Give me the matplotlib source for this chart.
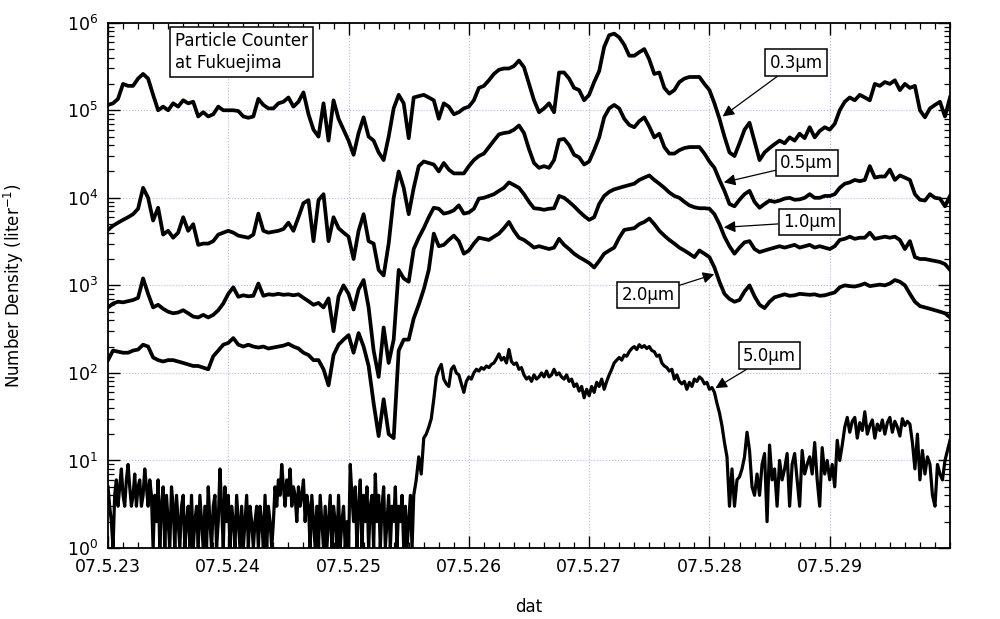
"""Particle number density at Fukuejima, 2007-05-23 .. 2007-05-30 (log scale)."""

import numpy as np
import matplotlib

matplotlib.use("Agg")
import matplotlib.pyplot as plt
from matplotlib.ticker import FixedLocator, MultipleLocator, NullFormatter

# x axis: days since 07.5.23 00:00
day_ticks = [0, 1, 2, 3, 4, 5, 6]
day_labels = ["07.5.23", "07.5.24", "07.5.25", "07.5.26", "07.5.27", "07.5.28", "07.5.29"]
decades = [1, 1e1, 1e2, 1e3, 1e4, 1e5, 1e6]

# hourly number densities (liter^-1)
n03 = [
    1.15e5, 1.2e5, 1.35e5, 2.0e5, 1.9e5, 1.9e5, 2.3e5, 2.6e5, 2.3e5, 1.5e5, 1.0e5, 1.1e5,
    1.0e5, 1.2e5, 1.1e5, 1.3e5, 1.2e5, 1.25e5, 8.5e4, 9.5e4, 8.5e4, 9.0e4, 1.1e5, 1.0e5,
    1.0e5, 1.0e5, 9.8e4, 8.5e4, 8.2e4, 8.5e4, 1.35e5, 1.15e5, 1.05e5, 1.05e5, 1.2e5, 1.25e5,
    1.4e5, 1.1e5, 1.25e5, 1.6e5, 9.0e4, 6.0e4, 5.0e4, 1.2e5, 4.5e4, 1.3e5, 8.0e4, 6.0e4,
    4.5e4, 3.1e4, 5.5e4, 8.3e4, 5.0e4, 4.5e4, 3.3e4, 2.7e4, 5.0e4, 1.05e5, 1.5e5, 1.2e5,
    4.8e4, 1.4e5, 1.45e5, 1.5e5, 1.4e5, 1.3e5, 8.0e4, 1.2e5, 1.1e5, 9.0e4, 9.5e4, 1.05e5,
    1.1e5, 1.3e5, 1.8e5, 1.9e5, 2.2e5, 2.6e5, 2.9e5, 3.0e5, 3.0e5, 3.2e5, 3.7e5, 3.1e5,
    2.0e5, 1.3e5, 9.5e4, 1.05e5, 1.2e5, 9.5e4, 2.7e5, 2.7e5, 2.3e5, 1.8e5, 1.7e5, 1.3e5,
    1.5e5, 2.1e5, 2.8e5, 5.3e5, 7.2e5, 7.5e5, 6.8e5, 5.6e5, 4.2e5, 4.2e5, 4.6e5, 5.0e5,
    3.8e5, 2.6e5, 2.7e5, 1.8e5, 1.55e5, 1.7e5, 2.1e5, 2.3e5, 2.4e5, 2.4e5, 2.4e5, 2.0e5,
    1.7e5, 1.2e5, 8.0e4, 5.0e4, 3.3e4, 3.0e4, 4.2e4, 6.0e4, 7.2e4, 4.4e4, 2.7e4, 3.3e4,
    3.7e4, 4.1e4, 4.5e4, 4.2e4, 4.9e4, 4.5e4, 5.4e4, 4.8e4, 6.4e4, 4.9e4, 5.8e4, 6.4e4,
    6.0e4, 7.0e4, 1.0e5, 1.25e5, 1.4e5, 1.3e5, 1.5e5, 1.4e5, 1.3e5, 2.0e5, 1.9e5, 2.1e5,
    2.0e5, 2.2e5, 1.7e5, 2.0e5, 1.8e5, 1.9e5, 1.0e5, 8.3e4, 1.05e5, 1.15e5, 1.25e5, 8.5e4,
    1.4e5,
]
n05 = [
    4.3e3, 4.8e3, 5.2e3, 5.6e3, 6.0e3, 6.5e3, 7.5e3, 1.3e4, 1.0e4, 5.5e3, 7.7e3, 3.8e3,
    4.2e3, 3.5e3, 4.0e3, 6.0e3, 4.2e3, 5.0e3, 2.9e3, 3.0e3, 3.0e3, 3.2e3, 3.8e3, 4.0e3,
    4.2e3, 4.0e3, 3.7e3, 3.6e3, 3.5e3, 3.8e3, 6.6e3, 4.2e3, 4.0e3, 4.1e3, 4.2e3, 4.4e3,
    5.2e3, 4.2e3, 6.0e3, 8.7e3, 9.4e3, 3.2e3, 9.4e3, 1.1e4, 3.2e3, 6.0e3, 4.5e3, 4.0e3,
    3.6e3, 2.0e3, 4.2e3, 6.5e3, 3.2e3, 3.0e3, 1.5e3, 1.3e3, 3.0e3, 1.0e4, 2.0e4, 1.3e4,
    6.5e3, 1.3e4, 2.3e4, 2.6e4, 2.5e4, 2.4e4, 2.0e4, 2.5e4, 2.1e4, 1.9e4, 1.9e4, 1.9e4,
    2.3e4, 2.7e4, 3.0e4, 3.2e4, 3.8e4, 4.5e4, 5.3e4, 5.5e4, 5.6e4, 6.0e4, 6.7e4, 5.5e4,
    3.6e4, 2.5e4, 2.2e4, 2.3e4, 2.2e4, 2.7e4, 4.6e4, 4.7e4, 4.0e4, 3.1e4, 2.9e4, 2.4e4,
    2.6e4, 3.5e4, 4.9e4, 8.3e4, 1.05e5, 1.15e5, 1.05e5, 8.0e4, 6.8e4, 6.4e4, 7.5e4, 8.3e4,
    6.5e4, 4.9e4, 5.4e4, 3.8e4, 3.2e4, 3.2e4, 3.5e4, 3.7e4, 3.8e4, 3.8e4, 3.8e4, 3.2e4,
    2.6e4, 2.2e4, 1.6e4, 1.2e4, 8.5e3, 8.0e3, 9.5e3, 1.1e4, 1.2e4, 9.0e3, 7.7e3, 8.5e3,
    9.3e3, 9.0e3, 9.3e3, 9.8e3, 1.0e4, 9.5e3, 9.6e3, 1.0e4, 1.1e4, 1.0e4, 1.0e4, 1.05e4,
    1.05e4, 1.1e4, 1.3e4, 1.45e4, 1.5e4, 1.6e4, 1.55e4, 1.6e4, 2.3e4, 1.7e4, 1.75e4, 1.75e4,
    2.1e4, 1.6e4, 1.8e4, 1.7e4, 1.6e4, 1.1e4, 9.5e3, 9.3e3, 1.1e4, 1.0e4, 9.8e3, 8.0e3,
    1.05e4,
]
n10 = [
    560, 620, 650, 640, 660, 680, 720, 1200, 800, 560, 600, 540,
    500, 480, 490, 520, 480, 440, 430, 460, 430, 460, 520, 620,
    800, 950, 740, 770, 750, 760, 1050, 760, 790, 780, 800, 780,
    790, 770, 790, 720, 660, 600, 630, 560, 710, 300, 750, 1000,
    800, 530, 900, 1150, 560, 180, 90, 330, 130, 240, 1500, 1200,
    1100, 2600, 3500, 4500, 6000, 7700, 7500, 6600, 6800, 7200, 8200, 6600,
    6800, 7500, 9800, 1.0e4, 1.05e4, 1.1e4, 1.2e4, 1.3e4, 1.5e4, 1.4e4, 1.3e4, 1.1e4,
    9000, 7600, 7500, 7300, 7500, 7600, 1.05e4, 1.0e4, 9000, 8000, 7000, 6200,
    5600, 6000, 8500, 1.05e4, 1.17e4, 1.25e4, 1.3e4, 1.35e4, 1.4e4, 1.45e4, 1.6e4, 1.7e4,
    1.8e4, 1.6e4, 1.45e4, 1.3e4, 1.15e4, 1.05e4, 1.0e4, 9000, 8200, 7800, 7600, 7600,
    7500, 6500, 5000, 3600, 2800, 2300, 2700, 3100, 3200, 2600, 2400, 2500,
    2600, 2700, 2800, 2700, 2800, 2900, 2700, 2800, 2900, 2700, 2800, 2700,
    2600, 2800, 3300, 3400, 3600, 3400, 3500, 3500, 4000, 3400, 3500, 3600,
    3500, 3600, 3300, 2600, 3200, 2100, 2000, 2000, 1950, 1900, 1850, 1750,
    1500,
]
n20 = [
    140, 180, 175, 170, 170, 180, 185, 210, 200, 150, 140, 135,
    140, 140, 135, 130, 125, 120, 120, 115, 110, 155, 180, 210,
    220, 250, 210, 200, 210, 200, 195, 200, 190, 195, 200, 205,
    215, 200, 190, 170, 160, 140, 140, 110, 72, 160, 210, 240,
    270, 170, 285, 200, 120, 45, 19, 50, 20, 18, 180, 240,
    240, 420, 600, 900, 1500, 3900, 2800, 2900, 3300, 3700, 3200, 2300,
    2500, 3000, 3500, 3400, 3300, 3600, 3900, 4500, 5300, 4200, 3500, 3300,
    3000, 2700, 2800, 2700, 2600, 2700, 3400, 2900, 2600, 2300, 2100, 1950,
    1800, 1600, 1900, 2300, 2500, 2700, 3500, 4300, 4400, 4500, 5000, 5300,
    5800, 5000, 4200, 3700, 3300, 3000, 2700, 2500, 2300, 2100, 2500, 2300,
    2100, 1600, 1100, 800, 700, 650, 680, 850, 1000, 750, 600, 550,
    650, 730, 760, 790, 760, 770, 800, 790, 780, 790, 760, 770,
    800, 830, 950, 1000, 980, 970, 1000, 1050, 980, 1000, 1020, 1000,
    1050, 1150, 1100, 1000, 800, 650, 580, 560, 540, 520, 500, 480,
    430,
]
# 5.0 um channel: every 20 min up to hour 61 (counts near zero sit on the axis floor) ...
n50_early = [
    5, 3, 2, 1, 4, 6, 3, 5, 8, 4, 3, 6, 9, 5, 3, 4, 7, 3,
    5, 6, 3, 4, 8, 5, 3, 6, 4, 1, 4, 2, 6, 1, 3, 5, 1, 4,
    2, 1, 5, 3, 1, 4, 2, 1, 3, 4, 1, 2, 3, 1, 4, 1, 2, 3,
    1, 4, 2, 1, 3, 1, 5, 2, 1, 3, 4, 1, 2, 8, 3, 1, 5, 2,
    4, 1, 3, 2, 1, 4, 2, 1, 3, 1, 2, 4, 1, 3, 2, 1, 2, 3,
    1, 3, 2, 1, 4, 1, 3, 2, 1, 2, 5, 3, 6, 4, 9, 5, 3, 6,
    4, 8, 3, 5, 4, 2, 5, 3, 4, 6, 2, 4, 3, 1, 4, 2, 1, 3,
    1, 4, 2, 1, 3, 1, 2, 4, 1, 3, 2, 1, 4, 1, 2, 3, 1, 2,
    1, 9, 4, 2, 5, 1, 3, 6, 1, 4, 2, 5, 1, 3, 4, 1, 7, 2,
    4, 1, 3, 5, 1, 2, 4, 1, 3, 2, 5, 1, 3, 2, 4, 1, 3, 1,
    2, 4, 1,
]
# ... then every 30 min from hour 61 to the end
n50_late = [
    4, 6, 11, 7, 18, 20, 24, 30, 50, 90, 110, 125, 85, 75, 70, 110, 120, 100,
    95, 75, 60, 80, 90, 85, 100, 110, 105, 115, 110, 120, 115, 125, 130, 145, 165, 140,
    150, 130, 185, 135, 125, 130, 110, 115, 95, 85, 90, 80, 95, 85, 90, 100, 90, 105,
    90, 95, 110, 95, 100, 90, 85, 95, 80, 85, 70, 75, 62, 70, 52, 65, 55, 70,
    60, 78, 70, 85, 65, 80, 95, 110, 130, 140, 150, 140, 160, 155, 175, 190, 200, 185,
    210, 195, 205, 190, 200, 180, 175, 155, 160, 130, 120, 115, 105, 110, 85, 95, 80, 75,
    80, 65, 78, 70, 85, 80, 90, 85, 75, 78, 65, 68, 60, 45, 35, 25, 16, 11, 3, 8,
    3, 6, 6.5, 8, 11, 21, 13, 5, 4, 7, 4, 9, 12, 2, 15, 6, 8, 3, 10, 6, 8, 12,
    3, 9, 12, 6, 3, 13, 7, 9, 11, 7, 16, 6, 3, 14, 7, 10, 6, 9, 5, 17, 10, 15,
    24, 31, 21, 28, 31, 18, 27, 22, 36, 20, 25, 29, 18, 26, 22, 29, 20, 27, 31, 21,
    28, 24, 19, 30, 25, 28, 26, 16, 8, 20, 6, 13, 7, 11, 9, 4, 3, 9, 7, 6,
    10, 13, 17,
]

# size labels: (text, arrow tip [day, value], box centre [day, value])
size_labels = [
    ("0.3\u03bcm", (5.11, 8.5e4), (5.72, 3.5e5)),
    ("0.5\u03bcm", (5.12, 1.5e4), (5.81, 2.5e4)),
    ("1.0\u03bcm", (5.12, 4.6e3), (5.83, 5.3e3)),
    ("2.0\u03bcm", (5.04, 1.34e3), (4.49, 770)),
    ("5.0\u03bcm", (5.05, 67), (5.50, 158)),
]

plt.rcParams["font.family"] = ["DejaVu Sans"]
plt.rcParams["mathtext.default"] = "regular"

fig = plt.figure(figsize=(10, 6.19), dpi=100)
ax = fig.add_axes([0.108, 0.1147, 0.842, 0.8486])

t_hour = np.arange(len(n03)) / 24.0
for series in (n03, n05, n10, n20):
    ax.plot(t_hour, series, color="black", lw=2.7)
t50 = np.concatenate([np.arange(len(n50_early)) / 72.0,
                      61 / 24.0 + np.arange(len(n50_late)) / 48.0])
ax.plot(t50, n50_early + n50_late, color="black", lw=2.3)

ax.set_yscale("log")
ax.set_ylim(1, 1e6)
ax.set_xlim(0, 7)

ax.xaxis.set_major_locator(FixedLocator(day_ticks))
ax.set_xticklabels(day_labels)
ax.xaxis.set_minor_locator(MultipleLocator(0.125))
ax.yaxis.set_major_locator(FixedLocator(decades))
minor_y = [m * d for d in decades[:-1] for m in range(2, 10)]
ax.yaxis.set_minor_locator(FixedLocator(minor_y))
ax.yaxis.set_minor_formatter(NullFormatter())

ax.tick_params(which="both", direction="in", top=True, right=True, labelsize=12.5)
ax.tick_params(which="major", length=8.6, width=1.0, pad=7)
ax.tick_params(which="minor", length=4.3, width=0.9)
for sp in ax.spines.values():
    sp.set_linewidth(1.3)

ax.set_axisbelow(True)
ax.grid(True, which="major", color="#b8b8f0", linestyle=":", linewidth=0.8)

ax.set_xlabel("dat", fontsize=12)
ax.xaxis.set_label_coords(0.5, -0.095)
ax.set_ylabel("Number Density (liter$^{-1}$)", fontsize=12)
ax.yaxis.set_label_coords(-0.097, 0.5)

box = dict(boxstyle="square,pad=0.25", fc="white", ec="black", lw=1.1)
ax.text(0.079, 0.982, "Particle Counter\nat Fukuejima", transform=ax.transAxes,
        ha="left", va="top", fontsize=12, linespacing=1.3,
        bbox=dict(boxstyle="square,pad=0.3", fc="white", ec="black", lw=1.1))

for text, tip, centre in size_labels:
    ax.annotate(text, xy=tip, xytext=centre, ha="center", va="center", fontsize=12,
                bbox=box,
                arrowprops=dict(arrowstyle="-|>", color="black", lw=0.9,
                                mutation_scale=17, shrinkA=0, shrinkB=0))

fig.savefig("out.png", dpi=100)
